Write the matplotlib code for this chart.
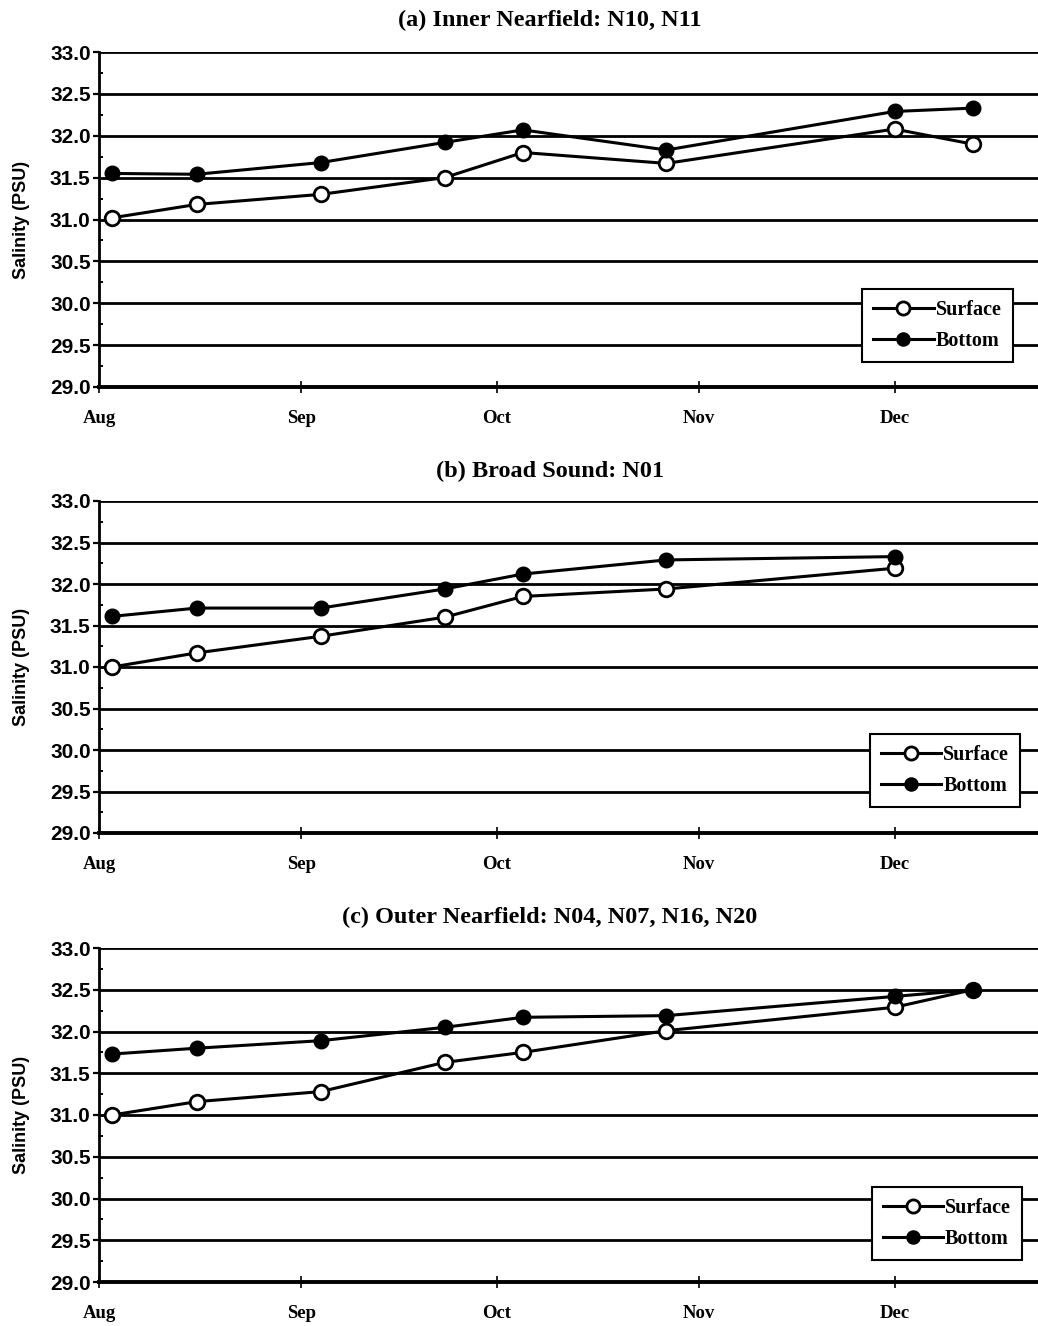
import matplotlib
matplotlib.use("Agg")
import matplotlib.pyplot as plt
from matplotlib.ticker import MultipleLocator, FormatStrFormatter, NullLocator
import pandas as pd

# survey dates (year is not shown on the chart)
survey_dates = ["1999-08-03", "1999-08-16", "1999-09-04", "1999-09-23",
                "1999-10-05", "1999-10-27", "1999-12-01", "1999-12-13"]

inner_surface = [31.02, 31.18, 31.30, 31.50, 31.80, 31.67, 32.08, 31.90]
inner_bottom = [31.55, 31.54, 31.68, 31.92, 32.07, 31.83, 32.29, 32.33]

broad_surface = [31.00, 31.17, 31.37, 31.60, 31.85, 31.94, 32.19]
broad_bottom = [31.61, 31.71, 31.71, 31.94, 32.12, 32.29, 32.33]

outer_surface = [31.00, 31.16, 31.28, 31.63, 31.75, 32.01, 32.29, 32.50]
outer_bottom = [31.73, 31.80, 31.89, 32.05, 32.17, 32.19, 32.42, 32.50]

titles = ["(a) Inner Nearfield: N10, N11",
          "(b) Broad Sound: N01",
          "(c) Outer Nearfield: N04, N07, N16, N20"]
month_ticks = ["1999-08-01", "1999-09-01", "1999-10-01", "1999-11-01", "1999-12-01"]
month_labels = ["Aug", "Sep", "Oct", "Nov", "Dec"]

SERIF = "Liberation Serif"
SANS = "Liberation Sans"

dates = pd.to_datetime(survey_dates)
ticks = pd.to_datetime(month_ticks)


def draw_panel(ax, title_y, title, surface, bottom, legend_anchor):
    d = dates[:len(surface)]
    ax.plot(d, surface, color="black", lw=2.2, marker="o", ms=10.5,
            mfc="white", mec="black", mew=2.0, label="Surface", zorder=3)
    ax.plot(d[:len(bottom)], bottom, color="black", lw=2.2, marker="o", ms=10.5,
            mfc="black", mec="black", label="Bottom", zorder=4)

    ax.set_ylim(29.0, 33.0)
    ax.set_xlim(pd.Timestamp("1999-08-01"), pd.Timestamp("1999-12-23"))
    ax.yaxis.set_major_locator(MultipleLocator(0.5))
    ax.yaxis.set_minor_locator(MultipleLocator(0.25))
    ax.yaxis.set_major_formatter(FormatStrFormatter("%.1f"))
    ax.set_xticks(ticks)
    ax.set_xticklabels(month_labels, fontfamily=SERIF, fontweight="bold", fontsize=13.5)
    ax.xaxis.set_minor_locator(NullLocator())
    for lab in ax.get_yticklabels():
        lab.set_fontfamily(SANS)
        lab.set_fontweight("bold")
        lab.set_fontsize(15)

    ax.grid(axis="y", which="major", color="black", lw=2.0)
    ax.set_axisbelow(True)
    ax.spines["right"].set_visible(False)
    ax.spines["top"].set_visible(False)
    ax.spines["left"].set_linewidth(2.0)
    ax.spines["bottom"].set_linewidth(2.8)
    ax.tick_params(axis="y", which="major", direction="out", length=4, width=1.6, pad=2)
    ax.tick_params(axis="y", which="minor", direction="in", length=3, width=1.4)
    ax.tick_params(axis="x", which="major", direction="inout", length=9, width=1.2, pad=12)

    ax.set_ylabel("Salinity (PSU)", fontfamily=SANS, fontweight="bold", fontsize=13, labelpad=14)

    plt.gcf().text(550 / 1038, title_y, title, ha="center", va="center",
                   fontfamily=SERIF, fontweight="bold", fontsize=17.5)

    leg = ax.legend(loc="lower right", bbox_to_anchor=legend_anchor, frameon=True,
                    fancybox=False, framealpha=1, edgecolor="black", borderaxespad=0,
                    handlelength=3.0, handletextpad=0.1, borderpad=0.55,
                    labelspacing=0.55, markerscale=0.9,
                    prop={"family": SERIF, "weight": "bold", "size": 14.5})
    leg.get_frame().set_linewidth(1.5)


fig = plt.figure(figsize=(10.38, 13.26), dpi=100)
left = 99 / 1038
width = 1 - left

ax_a = fig.add_axes([left, 1 - 387 / 1326, width, 335 / 1326])
draw_panel(ax_a, 1 - 20 / 1326, titles[0], inner_surface, inner_bottom, (0.973, 0.075))

ax_b = fig.add_axes([left, 1 - 833 / 1326, width, 332 / 1326])
draw_panel(ax_b, 1 - 471 / 1326, titles[1], broad_surface, broad_bottom, (0.981, 0.079))

ax_c = fig.add_axes([left, 1 - 1282 / 1326, width, 334 / 1326])
draw_panel(ax_c, 1 - 917 / 1326, titles[2], outer_surface, outer_bottom, (0.983, 0.066))

fig.savefig("out.png", dpi=100)
